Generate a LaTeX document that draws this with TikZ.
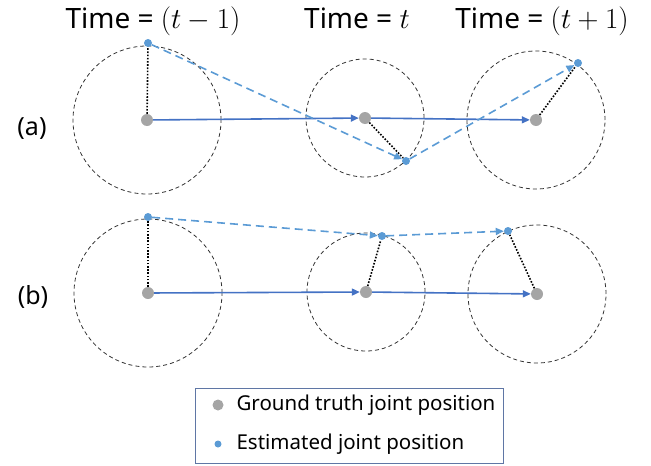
\RequirePackage{fix-cm}
\documentclass[tikz,border=0pt]{standalone}
\usepackage{fontspec}
\setmainfont{Noto Sans}
\usetikzlibrary{arrows.meta}
\definecolor{gtgray}{RGB}{165,165,165}
\definecolor{estblue}{RGB}{91,155,213}
\definecolor{flowblue}{RGB}{68,114,196}
\definecolor{boxedge}{RGB}{95,118,165}
\newcommand{\bigmath}[1]{{\fontsize{29}{33}\selectfont$#1$}}

\begin{document}
\begin{tikzpicture}[
  x=1pt, y=-1pt,
  gt/.style={circle, fill=gtgray, inner sep=0pt, minimum size=12pt},
  est/.style={circle, fill=estblue, inner sep=0pt, minimum size=8pt},
  ring/.style={draw=black!80, dash pattern=on 4pt off 3pt, line width=0.8pt},
  flow/.style={-{Triangle[length=8pt,width=7pt]}, draw=flowblue, line width=1.6pt},
  track/.style={-{Triangle[length=8pt,width=7pt]}, draw=estblue, line width=1.6pt, dash pattern=on 8pt off 5pt},
  err/.style={draw=black, line width=1.6pt, dash pattern=on 1.6pt off 1.6pt},
  big/.style={anchor=base, inner sep=0pt, font=\fontsize{28}{32}\selectfont},
  side/.style={font=\fontsize{25}{29}\selectfont},
  legtext/.style={anchor=west, font=\fontsize{20.5}{24}\selectfont}
]
\useasboundingbox (0,0) rectangle (651,466);

% headings
\node[big] (tprev) at (153,28) {Time = \bigmath{(t-1)}};
\node[big] (tnow) at (357,28) {Time = \bigmath{t}};
\node[big] (tnext) at (542,28) {Time = \bigmath{(t+1)}};
\node[side] (rowa) at (32,129) {(a)};
\node[side] (rowb) at (33,297) {(b)};

% row (a)
\node[gt] (gA1) at (147,120) {};
\node[gt] (gA2) at (365,118) {};
\node[gt] (gA3) at (536,120) {};
\draw[ring] (gA1) circle (74pt);
\draw[ring] (gA2) circle (59pt);
\draw[ring] (gA3) circle (69pt);
\node[est] (eA1) at (148,43) {};
\node[est] (eA2) at (406,161) {};
\node[est] (eA3) at (578,63) {};
\draw[err] (gA1) -- (eA1);
\draw[err] (gA2) -- (eA2);
\draw[err] (gA3) -- (eA3);
\draw[flow] (gA1) -- (gA2);
\draw[flow] (gA2) -- (gA3);
\draw[track] (eA1) -- (eA2);
\draw[track] (eA2) -- (eA3);

% row (b)
\node[gt] (gB1) at (148,293) {};
\node[gt] (gB2) at (366,292) {};
\node[gt] (gB3) at (537,294) {};
\draw[ring] (gB1) circle (74pt);
\draw[ring] (gB2) circle (59pt);
\draw[ring] (gB3) circle (69pt);
\node[est] (eB1) at (148,217) {};
\node[est] (eB2) at (382,236) {};
\node[est] (eB3) at (508,231) {};
\draw[err] (gB1) -- (eB1);
\draw[err] (gB2) -- (eB2);
\draw[err] (gB3) -- (eB3);
\draw[flow] (gB1) -- (gB2);
\draw[flow] (gB2) -- (gB3);
\draw[track] (eB1) -- (eB2);
\draw[track] (eB2) -- (eB3);

% legend
\node[draw=boxedge, line width=0.7pt, minimum width=308pt, minimum height=75pt, inner sep=0pt] (legend) at (349,425.5) {};
\node[gt, minimum size=11pt] (keygt) at (218,405) {};
\node[est, minimum size=7pt] (keyest) at (218,444) {};
\node[legtext] (labgt) at (233,405) {Ground truth joint position};
\node[legtext] (labest) at (233,444) {Estimated joint position};
\end{tikzpicture}
\end{document}
